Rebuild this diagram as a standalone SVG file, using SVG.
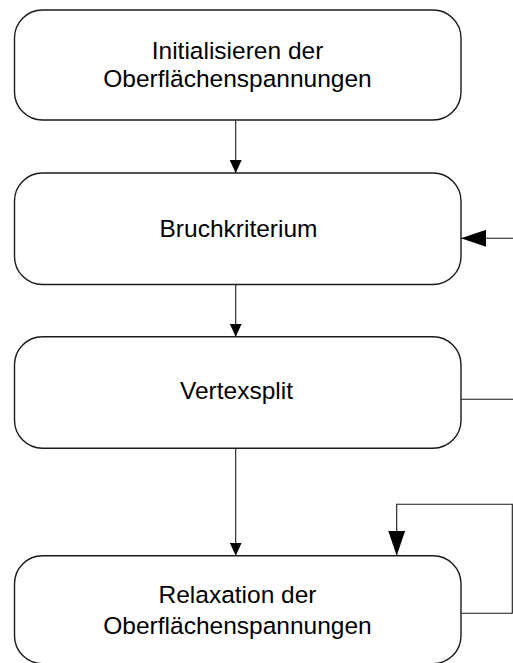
<svg xmlns="http://www.w3.org/2000/svg" width="513" height="663" viewBox="0 0 513 663">
  <style>
    .box { fill: #ffffff; stroke: #1a1a1a; stroke-width: 1.4; }
    .lbl { font-family: "Liberation Sans", Arial, sans-serif; font-size: 24.5px; fill: #000; text-anchor: middle; }
    .con { fill: none; stroke: #1a1a1a; stroke-width: 1.1; }
  </style>
  <defs>
    <marker id="arrSmall" markerUnits="userSpaceOnUse" viewBox="0 0 13 12" refX="13" refY="6" markerWidth="13" markerHeight="12" orient="auto">
      <path d="M0,0 L13,6 L0,12 z" fill="#000"/>
    </marker>
    <marker id="arrBig" markerUnits="userSpaceOnUse" viewBox="0 0 25 17" refX="25" refY="8.5" markerWidth="25" markerHeight="17" orient="auto">
      <path d="M0,0 L25,8.5 L0,17 z" fill="#000"/>
    </marker>
  </defs>
  <rect width="513" height="663" fill="#ffffff"/>

  <g id="connectors">
    <path class="con" d="M235.7,120 L235.7,173" marker-end="url(#arrSmall)"/>
    <path class="con" d="M235.7,284.5 L235.7,336.7" marker-end="url(#arrSmall)"/>
    <path class="con" d="M235.7,448.3 L235.7,555.7" marker-end="url(#arrSmall)"/>
    <path class="con" d="M461,399.3 L513,399.3"/>
    <path class="con" d="M513,238.3 L461,238.3" marker-end="url(#arrBig)"/>
    <path class="con" d="M461,613.3 L512.3,613.3 L512.3,504.3 L396.7,504.3 L396.7,555.7" marker-end="url(#arrBig)"/>
  </g>

  <g id="node-init">
    <rect class="box" x="14.5" y="10" width="446.5" height="110" rx="28" ry="28"/>
    <text class="lbl" x="237.5" y="59.3">Initialisieren der</text>
    <text class="lbl" x="237.5" y="87">Oberflächenspannungen</text>
  </g>
  <g id="node-bruch">
    <rect class="box" x="14.5" y="173" width="446.5" height="111.5" rx="28" ry="28"/>
    <text class="lbl" x="238.5" y="236.7">Bruchkriterium</text>
  </g>
  <g id="node-vertex">
    <rect class="box" x="14.5" y="336.7" width="446.5" height="111.6" rx="28" ry="28"/>
    <text class="lbl" x="236.5" y="399.3">Vertexsplit</text>
  </g>
  <g id="node-relax">
    <rect class="box" x="14.5" y="555.7" width="446.5" height="108" rx="28" ry="28"/>
    <text class="lbl" x="237.5" y="602.7">Relaxation der</text>
    <text class="lbl" x="237.5" y="634">Oberflächenspannungen</text>
  </g>
</svg>
